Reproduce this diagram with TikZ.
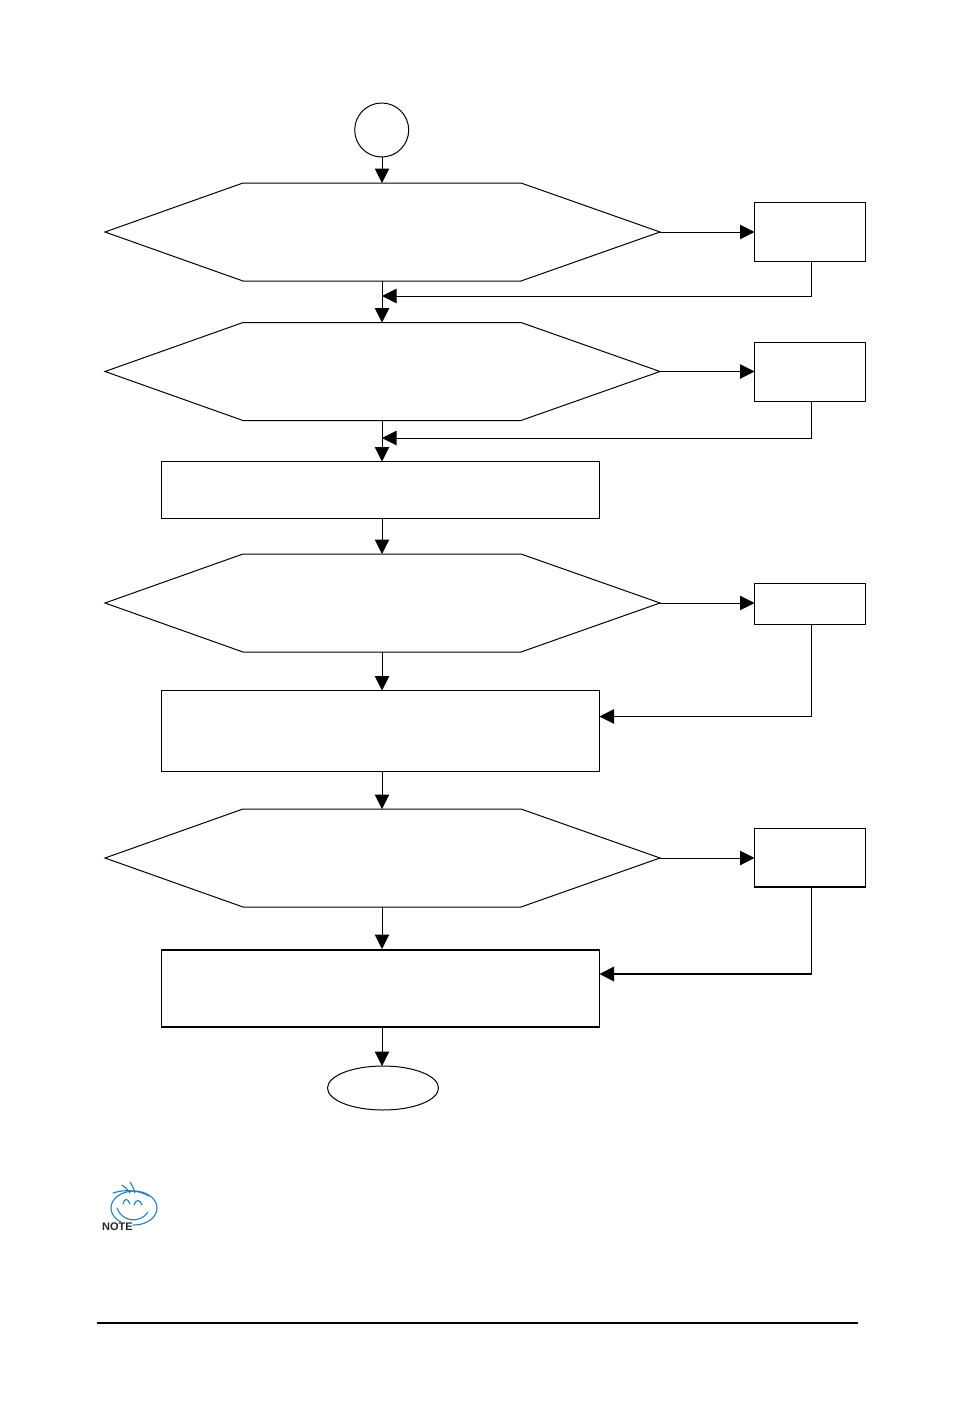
\documentclass[tikz,border=0pt]{standalone}
\usepackage{fontspec}
\setmainfont{Liberation Sans}
\usetikzlibrary{arrows.meta,shapes.geometric}
\definecolor{logoblue}{RGB}{40,125,190}
\tikzset{
  line/.style={draw=black,line width=1pt},
  flow/.style={line,-{Triangle[length=14.5pt,width=14.5pt]}},
  thickflow/.style={flow,line width=2pt},
  procbox/.style={draw=black,line width=1pt,fill=white,rectangle,inner sep=0pt,outer sep=0pt},
  hexa/.style={draw=black,line width=1pt,fill=white,line join=miter},
  logo/.style={draw=logoblue,line width=1.1pt,line cap=round},
}
\newcommand{\hexagon}[2]{%
  \coordinate (#1-l) at (105,#2);
  \coordinate (#1-r) at (660,#2);
  \coordinate (#1-t) at (382,#2-49);
  \coordinate (#1-b) at (382,#2+49);
  \draw[hexa] (#1-l) -- (243,#2-49) -- (521,#2-49) -- (#1-r) -- (521,#2+49) -- (243,#2+49) -- cycle;
}
\begin{document}
\begin{tikzpicture}[x=1pt,y=-1pt]
\useasboundingbox (0,0) rectangle (954,1418);
\fill[white] (0,0) rectangle (954,1418);
% start / end
\node[draw=black,line width=1pt,circle,minimum size=54pt,inner sep=0pt,outer sep=0pt] (start) at (381.7,130) {};
\node[draw=black,line width=1pt,ellipse,minimum width=111pt,minimum height=44pt,inner sep=0pt,outer sep=0pt] (finish) at (383,1088) {};
% decisions
\hexagon{ha}{232}
\hexagon{hb}{371.5}
\hexagon{hc}{603}
\hexagon{hd}{858}
% side boxes
\node[procbox,minimum width=111pt,minimum height=59pt] (sa) at (810,232) {};
\node[procbox,minimum width=111pt,minimum height=59pt] (sb) at (810,372) {};
\node[procbox,minimum width=111pt,minimum height=41pt] (sc) at (810,604) {};
\node[procbox,minimum width=111pt,minimum height=59pt] (sd) at (810,858) {};
% process boxes
\node[procbox,minimum width=438pt,minimum height=57pt] (pa) at (380.5,490) {};
\node[procbox,minimum width=438pt,minimum height=81pt] (pb) at (380.5,731) {};
\node[procbox,minimum width=438pt,minimum height=77.5pt] (pc) at (380.5,988.25) {};
% anchor points on the flow axis
\coordinate (pa-t) at (382,461.5);
\coordinate (pa-b) at (382,518.5);
\coordinate (pb-t) at (382,690.5);
\coordinate (pb-b) at (382,771.5);
\coordinate (pc-t) at (382,949);
\coordinate (pc-b) at (382,1027);
\coordinate (endT) at (382,1066);
% thicker edges
\draw[line width=2pt] ([yshift=0.5pt]sd.south west) -- ([yshift=0.5pt]sd.south east);
\draw[line width=2pt] ([yshift=-0.5pt]pc.north west) -- ([yshift=-0.5pt]pc.north east);
\draw[line width=2pt] (pc.south west) -- (pc.south east);
% main flow
\draw[flow] (start.south -| ha-t) -- (ha-t);
\draw[flow] (ha-b) -- (hb-t);
\draw[flow] (hb-b) -- (pa-t);
\draw[flow] (pa-b) -- (hc-t);
\draw[flow] (hc-b) -- (pb-t);
\draw[flow] (pb-b) -- (hd-t);
\draw[flow] (hd-b) -- (pc-t);
\draw[flow] (pc-b) -- (endT);
% side flows
\draw[flow] (ha-r) -- (sa.west |- ha-r);
\draw[flow] (hb-r) -- (sb.west |- hb-r);
\draw[flow] (hc-r) -- (sc.west |- hc-r);
\draw[flow] (hd-r) -- (sd.west |- hd-r);
\coordinate (ja) at (382,296);
\coordinate (jb) at (382,438);
\coordinate (jc) at (599.5,716.5);
\coordinate (jd) at (599.5,974);
\coordinate (sa-b) at (811.5,261.5);
\coordinate (sb-b) at (811.5,401.5);
\coordinate (sc-b) at (811.5,624.5);
\coordinate (sd-b) at (811.5,887.5);
\draw[flow] (sa-b) |- (ja);
\draw[flow] (sb-b) |- (jb);
\draw[flow] (sc-b) |- (jc);
\draw[line] (sd-b) -- ([yshift=-1pt]sd-b |- jd);
\draw[thickflow] ([xshift=0.5pt]sd-b |- jd) -- (jd);
% note logo
\draw[logo] (134,1208) ellipse [x radius=23, y radius=17];
\draw[logo] (113,1193) .. controls (125,1189) and (138,1190) .. (149,1196);
\draw[logo] (122,1185) .. controls (125,1187) and (128,1190) .. (130,1193);
\draw[logo] (130,1182) .. controls (132,1185) and (134,1189) .. (135,1193);
\draw[logo] (117,1208) .. controls (122,1222) and (140,1224) .. (148,1212);
\draw[logo] (123,1204) .. controls (124,1198) and (128,1198) .. (130,1204);
\draw[logo] (134,1205) .. controls (136,1199) and (140,1199) .. (142,1205);
\node[fill=white,inner sep=0.5pt,font=\bfseries\fontsize{11}{12}\selectfont,text=black!85] (note) at (117.5,1226.5) {NOTE};
% footer rule
\coordinate (ruleL) at (97,1323);
\coordinate (ruleR) at (858,1323);
\draw[line width=1.7pt] (ruleL) -- (ruleR);
\end{tikzpicture}
\end{document}
